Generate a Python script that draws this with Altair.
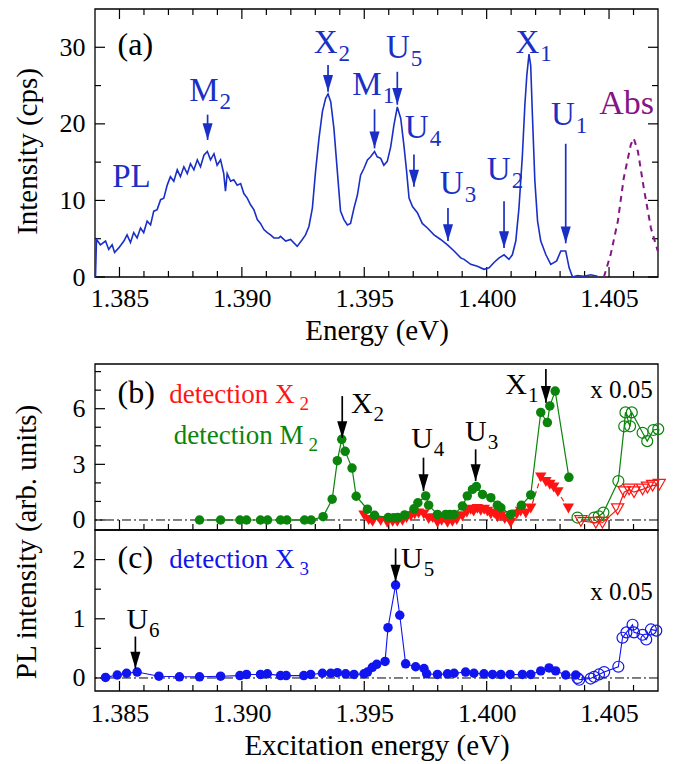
import altair as alt
import pandas as pd

FONT = "Liberation Serif"
BLUE = "#1a2fc6"
DOT_BLUE = "#1014ee"
GREEN = "#0b840b"
RED = "#ff1414"
PURPLE = "#851585"

E_RANGE = [1.384, 1.407]
W = 563
H_A = 268      # panel (a) plot height
GAP = 87       # room below (a) for its energy axis
H_B = 166      # panel (b) plot height
H_C = 161      # panel (c) plot height

x_major = [1.385, 1.390, 1.395, 1.400, 1.405]
x_minor = [1.386, 1.387, 1.388, 1.389, 1.391, 1.392, 1.393, 1.394, 1.396,
           1.397, 1.398, 1.399, 1.401, 1.402, 1.403, 1.404, 1.406]
a_y_major, a_y_minor = [0, 10, 20, 30], [5, 15, 25]
b_y_major, b_y_minor = [0, 3, 6], [1, 2, 4, 5, 7, 8]
c_y_major, c_y_minor = [0, 1, 2], [0.5, 1.5]

# ---- (a) PL spectrum (cps) and absorption
pl_energy = [
    1.38402, 1.38406, 1.38422, 1.38443, 1.38456, 1.38470, 1.38480, 1.38497, 1.38518, 1.38531,
    1.38545, 1.38558, 1.38572, 1.38586, 1.38599, 1.38613, 1.38627, 1.38640, 1.38654, 1.38668,
    1.38681, 1.38695, 1.38708, 1.38722, 1.38736, 1.38749, 1.38763, 1.38777, 1.38790, 1.38804,
    1.38818, 1.38831, 1.38845, 1.38859, 1.38872, 1.38886, 1.38899, 1.38913, 1.38926, 1.38933,
    1.38940, 1.38954, 1.38967, 1.38981, 1.38995, 1.39008, 1.39022, 1.39036, 1.39049, 1.39063,
    1.39076, 1.39090, 1.39104, 1.39117, 1.39131, 1.39151, 1.39158, 1.39179, 1.39199, 1.39226,
    1.39247, 1.39260, 1.39274, 1.39288, 1.39301, 1.39315, 1.39329, 1.39342, 1.39352, 1.39363,
    1.39376, 1.39390, 1.39403, 1.39417, 1.39431, 1.39444, 1.39458, 1.39472, 1.39485, 1.39499,
    1.39513, 1.39526, 1.39542, 1.39553, 1.39567, 1.39580, 1.39594, 1.39608, 1.39621, 1.39635,
    1.39649, 1.39662, 1.39673, 1.39683, 1.39697, 1.39717, 1.39737, 1.39758, 1.39785, 1.39812,
    1.39840, 1.39867, 1.39894, 1.39908, 1.39935, 1.39962, 1.39989, 1.40010, 1.40030, 1.40051,
    1.40071, 1.40091, 1.40105, 1.40119, 1.40132, 1.40146, 1.40156, 1.40164, 1.40173, 1.40180,
    1.40187, 1.40197, 1.40208, 1.40221, 1.40242, 1.40262, 1.40286, 1.40303, 1.40323, 1.40337,
    1.40351, 1.40371, 1.40398, 1.40425, 1.40453,
]
pl_counts = [
    0.0, 4.9, 4.2, 4.7, 3.6, 4.2, 3.2, 3.8, 4.7, 5.5,
    4.5, 5.8, 5.1, 6.4, 5.8, 7.3, 6.8, 8.6, 8.8, 10.1,
    10.3, 12.0, 13.1, 12.5, 14.0, 13.1, 14.4, 13.5, 14.8, 14.0,
    15.3, 14.4, 15.9, 16.4, 15.3, 16.1, 14.6, 15.3, 13.5, 11.2,
    13.5, 12.5, 12.7, 12.0, 12.2, 10.9, 10.3, 9.4, 8.8, 7.5,
    7.0, 6.2, 5.8, 5.5, 5.1, 5.1, 5.3, 4.7, 4.9, 4.0,
    4.9, 5.5, 6.6, 9.0, 13.8, 18.1, 21.6, 23.3, 23.9, 22.9,
    19.4, 13.8, 8.6, 7.5, 6.8, 7.0, 9.0, 10.7, 13.3, 14.2,
    15.3, 15.7, 16.4, 15.7, 15.5, 14.6, 15.1, 17.0, 19.8, 22.2,
    20.7, 17.2, 13.8, 10.3, 9.2, 8.4, 7.0, 6.4, 5.5, 4.9,
    4.2, 3.4, 2.5, 2.3, 1.65, 1.4, 1.0, 1.2, 1.9, 2.5,
    2.9, 2.3, 2.9, 4.7, 9.0, 15.9, 22.4, 26.3, 29.1, 27.6,
    21.1, 12.5, 7.3, 4.7, 2.9, 1.65, 2.1, 3.4, 3.4, 1.2,
    0.0, 0.2, 0.1, 0.3, 0.1,
]
abs_energy = [1.40479, 1.40507, 1.40536, 1.40560, 1.40589, 1.40601, 1.40618, 1.40642, 1.40671, 1.40699]
abs_counts = [0.0, 3.0, 7.3, 12.9, 17.3, 18.1, 16.4, 11.6, 6.4, 3.4]

a_arrow_E = [1.38860, 1.39352, 1.39542, 1.39635, 1.39703, 1.39842, 1.40071, 1.40323]
a_arrow_from = [21.2, 27.7, 21.9, 26.8, 16.0, 9.0, 9.9, 17.4]
a_arrow_to = [17.9, 24.2, 16.8, 22.5, 11.8, 4.7, 3.8, 4.4]
a_lab_E = [1.38905, 1.39391, 1.39571, 1.39686, 1.39763, 1.39906, 1.40098, 1.40215, 1.40360]
a_lab_y = [23.0, 29.2, 23.8, 28.6, 18.1, 10.8, 12.7, 29.2, 19.9]
a_lab_main = ["M", "X", "M", "U", "U", "U", "U", "X", "U"]
a_lab_sub = ["2", "2", "1", "5", "4", "3", "2", "1", "1"]

# ---- (b) excitation spectra, detection on M2 (green) and X2 (red)
m2_energy = [1.38827, 1.38913, 1.38992, 1.39019, 1.39076, 1.39105, 1.39158, 1.39184, 1.39256, 1.39283,
             1.39332, 1.39369, 1.39390, 1.39408, 1.39422, 1.39450, 1.39467, 1.39513, 1.39542, 1.39598,
             1.39620, 1.39637, 1.39665, 1.39703, 1.39719, 1.39751, 1.39763, 1.39799, 1.39833, 1.39849,
             1.39867, 1.39901, 1.39921, 1.39942, 1.39958, 1.39983, 1.40017, 1.40044, 1.40058, 1.40098,
             1.40142, 1.40180, 1.40221, 1.40248, 1.40258, 1.40280, 1.40336]
m2_signal = [0, 0, 0, 0, 0, 0, 0, 0, 0, 0,
             0.18, 1.12, 3.2, 4.35, 3.7, 2.8, 1.28, 0.58, 0.25, 0.13,
             0.12, 0.13, 0.27, 0.6, 0.93, 1.3, 0.8, 0.3, 0.3, 0.3,
             0.3, 0.75, 1.3, 1.65, 1.8, 1.38, 1.2, 0.8, 0.66, 0.3,
             0.79, 1.35, 5.8, 5.25, 6.15, 6.95, 2.3]
m2s_energy = [1.40371, 1.40439, 1.40458, 1.40477, 1.40538, 1.40562, 1.40567, 1.40586, 1.40593,
              1.40637, 1.40656, 1.40681, 1.40701]
m2s_signal = [0.13, 0.13, 0.2, 0.4, 2.1, 5.05, 5.8, 5.05, 5.8, 4.7, 4.25, 4.85, 4.9]
x2_energy = [1.39499, 1.39518, 1.39534, 1.39567, 1.39594, 1.39616, 1.39635, 1.39656, 1.39673, 1.39690,
             1.39706, 1.39722, 1.39743, 1.39763, 1.39780, 1.39799, 1.39816, 1.39840, 1.39860, 1.39878,
             1.39901, 1.39919, 1.39935, 1.39947, 1.39962, 1.39976, 1.39990, 1.40003, 1.40017, 1.40031,
             1.40044, 1.40058, 1.40074, 1.40098, 1.40123, 1.40139, 1.40160, 1.40180, 1.40221, 1.40242,
             1.40258, 1.40274, 1.40291, 1.40334]
x2_signal = [0.25, 0.0, -0.1, -0.05, -0.15, -0.1, -0.1, -0.05, 0.1, 0.2,
             0.3, 0.35, 0.3, 0.05, 0.1, -0.15, -0.05, -0.15, -0.1, 0.0,
             0.2, 0.4, 0.55, 0.45, 0.6, 0.5, 0.55, 0.45, 0.3, 0.35,
             0.15, 0.2, 0.05, -0.15, 0.3, 0.45, 0.35, 0.62, 2.3, 2.05,
             1.9, 1.75, 1.5, 0.62]
x2s_energy = [1.40385, 1.40446, 1.40473, 1.40535, 1.40562, 1.40582, 1.40602, 1.40637, 1.40657, 1.40678, 1.40705]
x2s_signal = [-0.05, -0.15, -0.15, 0.58, 1.5, 1.65, 1.5, 1.65, 1.75, 1.85, 1.9]

b_arrow_E = [1.39410, 1.39742, 1.39955, 1.40242]
b_arrow_from = [6.68, 3.36, 3.81, 8.14]
b_arrow_to = [4.42, 1.56, 2.1, 6.32]
b_lab_E = [1.39534, 1.39780, 1.40000, 1.40165]
b_lab_y = [5.78, 3.9, 4.26, 6.78]
b_lab_main = ["X", "U", "U", "X"]
b_lab_sub = ["2", "4", "3", "1"]

# ---- (c) excitation spectrum, detection on X3
x3_energy = [1.38443, 1.38491, 1.38529, 1.38572, 1.38661, 1.38745, 1.38827, 1.38913, 1.38992, 1.39019,
             1.39076, 1.39104, 1.39158, 1.39181, 1.39253, 1.39281, 1.39329, 1.39363, 1.39390, 1.39424,
             1.39458, 1.39499, 1.39513, 1.39533, 1.39551, 1.39585, 1.39597, 1.39628, 1.39645, 1.39669,
             1.39710, 1.39744, 1.39755, 1.39799, 1.39840, 1.39867, 1.39914, 1.39948, 1.39989, 1.40024,
             1.40058, 1.40096, 1.40146, 1.40180, 1.40221, 1.40255, 1.40282, 1.40323, 1.40364]
x3_signal = [0.01, 0.05, 0.08, 0.10, 0.03, 0.02, 0.02, 0.03, 0.04, 0.06,
             0.06, 0.07, 0.04, 0.04, 0.04, 0.06, 0.08, 0.08, 0.09, 0.07,
             0.06, 0.07, 0.1, 0.18, 0.23, 0.28, 0.85, 1.57, 1.06, 0.24,
             0.19, 0.16, 0.07, 0.06, 0.07, 0.08, 0.1, 0.08, 0.07, 0.06,
             0.06, 0.06, 0.06, 0.06, 0.12, 0.17, 0.12, 0.05, 0.05]
x3s_energy = [1.40371, 1.40378, 1.40425, 1.40439, 1.40459, 1.40480, 1.40538, 1.40555, 1.40571,
              1.40596, 1.40602, 1.40637, 1.40652, 1.40671, 1.40693]
x3s_signal = [0.0, -0.03, -0.01, 0.02, 0.06, 0.1, 0.19, 0.68, 0.77, 0.9, 0.77, 0.73, 0.65, 0.82, 0.8]

c_arrow_E = [1.38565, 1.39628]
c_arrow_from = [0.70, 2.19]
c_arrow_to = [0.16, 1.63]
c_lab_E = [1.38617, 1.39739]
c_lab_y = [0.82, 1.86]
c_lab_main = ["U", "U"]
c_lab_sub = ["6", "5"]

# arrow head: tip at the origin, pointing down
ARROW = "M-0.75,-2.5L0.75,-2.5L0,0Z"

xscale = alt.Scale(domain=E_RANGE, nice=False, zero=False)
AXIS_FONTS = dict(labelFont=FONT, labelFontSize=26, labelColor="black",
                  titleFont=FONT, titleFontSize=29, titleFontWeight="normal", titleColor="black")


def axes(yscale, xaxis, yaxis):
    fx = lambda f: alt.X(f, type="quantitative", scale=xscale, axis=xaxis)
    fy = lambda f: alt.Y(f, type="quantitative", scale=yscale, axis=yaxis)
    return fx, fy


def frame(fx, fy, top, bottom, y_major, y_minor, mirror):
    one = pd.DataFrame({"k": [0]})
    out = [alt.Chart(one).mark_rect(fillOpacity=0, stroke="black", strokeWidth=1.3).encode(
        x=alt.value(0), x2=alt.value(W), y=alt.value(top), y2=alt.value(bottom))]
    for vals, L in ((x_major, 10), (x_minor, 6)):
        base = alt.Chart(pd.DataFrame({"t": vals})).mark_rule(color="black", strokeWidth=1.2)
        out.append(base.encode(x=fx("t"), y=alt.value(bottom), y2=alt.value(bottom - L)))
        if mirror:
            out.append(base.encode(x=fx("t"), y=alt.value(top), y2=alt.value(top + L)))
    for vals, L in ((y_major, 10), (y_minor, 6)):
        base = alt.Chart(pd.DataFrame({"t": vals})).mark_rule(color="black", strokeWidth=1.2)
        out.append(base.encode(y=fy("t"), x=alt.value(0), x2=alt.value(L)))
        if mirror:
            out.append(base.encode(y=fy("t"), x=alt.value(W), x2=alt.value(W - L)))
    return out


def arrows(fx, fy, E, y0, y1, color):
    d = pd.DataFrame({"E": E, "y0": y0, "y1": y1})
    shaft = alt.Chart(d).mark_rule(color=color, strokeWidth=1.7).encode(
        x=fx("E"), y=fy("y0"), y2=alt.Y2("y1"))
    head = alt.Chart(d).mark_point(shape=ARROW, filled=True, size=180, color=color,
                                   opacity=1, strokeWidth=0).encode(x=fx("E"), y=fy("y1"))
    return [shaft, head]


def sub_labels(fx, fy, E, y, main, sub, color, size, sub_size, sub_dx=1, sub_dy=8):
    d = pd.DataFrame({"E": E, "y": y, "main": main, "sub": sub})
    m = alt.Chart(d).mark_text(align="right", baseline="alphabetic", font=FONT, fontSize=size,
                               color=color).encode(x=fx("E"), y=fy("y"), text="main:N")
    s = alt.Chart(d).mark_text(align="left", baseline="alphabetic", font=FONT, fontSize=sub_size,
                               color=color, dx=sub_dx, dy=sub_dy).encode(x=fx("E"), y=fy("y"), text="sub:N")
    return [m, s]


def label(fx, fy, E, y, text, color, size, align="left"):
    d = pd.DataFrame({"E": [E], "y": [y]})
    return alt.Chart(d).mark_text(text=text, align=align, baseline="alphabetic", font=FONT,
                                  fontSize=size, color=color).encode(x=fx("E"), y=fy("y"))


# ---------------- panel (a)
ya = alt.Scale(domain=[0, 35], nice=False, zero=False)
xa_axis = alt.Axis(values=x_major, format=".3f", title="Energy (eV)", domain=False, ticks=False,
                   grid=False, labelPadding=8, titleY=62, titleBaseline="alphabetic", **AXIS_FONTS)
ya_axis = alt.Axis(values=a_y_major, title="Intensity (cps)", domain=False, ticks=False, grid=False,
                   labelPadding=10, titleAngle=270, titleX=-59, titleY=H_A / 2 + 8,
                   titleBaseline="alphabetic", titleAlign="center", **AXIS_FONTS)
fxa, fya = axes(ya, xa_axis, ya_axis)

pl_df = pd.DataFrame({"E": pl_energy, "I": pl_counts})
abs_df = pd.DataFrame({"E": abs_energy, "I": abs_counts})
layers_a = frame(fxa, fya, 0, H_A, a_y_major, a_y_minor, True)
layers_a += [
    alt.Chart(pl_df).mark_line(color=BLUE, strokeWidth=1.6).encode(x=fxa("E"), y=fya("I")),
    alt.Chart(abs_df).mark_line(color=PURPLE, strokeWidth=2, strokeDash=[6, 5]).encode(x=fxa("E"), y=fya("I")),
]
layers_a += arrows(fxa, fya, a_arrow_E, a_arrow_from, a_arrow_to, BLUE)
layers_a += sub_labels(fxa, fya, a_lab_E, a_lab_y, a_lab_main, a_lab_sub, BLUE, 33, 23)
layers_a += [
    label(fxa, fya, 1.38492, 29.0, "(a)", "black", 32),
    label(fxa, fya, 1.38470, 11.8, "PL", BLUE, 33),
    label(fxa, fya, 1.40460, 21.3, "Abs", PURPLE, 34),
]
panel_a = alt.layer(*layers_a).properties(width=W, height=H_A)

# ---------------- panel (b)
yb = alt.Scale(domain=[-0.54, 8.41], range=[GAP + H_B, GAP], nice=False, zero=False)
yb_axis = alt.Axis(values=b_y_major, title=None, domain=False, ticks=False, grid=False, labelPadding=10,
                   **AXIS_FONTS)
fxb, fyb = axes(yb, None, yb_axis)

zero_df = pd.DataFrame({"z": [0]})
m2 = pd.DataFrame({"E": m2_energy, "v": m2_signal})
m2s = pd.DataFrame({"E": m2s_energy, "v": m2s_signal})
x2 = pd.DataFrame({"E": x2_energy, "v": x2_signal})
x2s = pd.DataFrame({"E": x2s_energy, "v": x2s_signal})

layers_b = frame(fxb, fyb, GAP, GAP + H_B, b_y_major, b_y_minor, False)
layers_b += [
    alt.Chart(zero_df).mark_rule(color="black", strokeWidth=1, strokeDash=[9, 3, 2, 3]).encode(y=fyb("z")),
    alt.Chart(x2).mark_line(color=RED, strokeWidth=1.2, strokeDash=[5, 3]).encode(x=fxb("E"), y=fyb("v")),
    alt.Chart(x2).mark_point(shape="triangle-down", filled=True, size=130, color=RED, opacity=1).encode(
        x=fxb("E"), y=fyb("v")),
    alt.Chart(m2).mark_line(color=GREEN, strokeWidth=1.2).encode(x=fxb("E"), y=fyb("v")),
    alt.Chart(m2).mark_circle(size=90, color=GREEN, opacity=1).encode(x=fxb("E"), y=fyb("v")),
    alt.Chart(m2s).mark_line(color=GREEN, strokeWidth=1.2).encode(x=fxb("E"), y=fyb("v")),
    alt.Chart(m2s).mark_point(shape="circle", filled=False, size=120, strokeWidth=1.2, color=GREEN,
                              opacity=1).encode(x=fxb("E"), y=fyb("v")),
    alt.Chart(x2s).mark_line(color=RED, strokeWidth=1.2).encode(x=fxb("E"), y=fyb("v")),
    alt.Chart(x2s).mark_point(shape="triangle-down", filled=False, size=150, strokeWidth=1.2, color=RED,
                              opacity=1).encode(x=fxb("E"), y=fyb("v")),
]
layers_b += arrows(fxb, fyb, b_arrow_E, b_arrow_from, b_arrow_to, "black")
layers_b += sub_labels(fxb, fyb, b_lab_E, b_lab_y, b_lab_main, b_lab_sub, "black", 30, 21)
layers_b += sub_labels(fxb, fyb, [1.39215], [6.32], ["detection X"], ["2"], RED, 27, 19, sub_dx=5, sub_dy=7)
layers_b += sub_labels(fxb, fyb, [1.39252], [4.08], ["detection M"], ["2"], GREEN, 27, 19, sub_dx=5, sub_dy=7)
layers_b += [
    label(fxb, fyb, 1.38492, 6.3, "(b)", "black", 32),
    label(fxb, fyb, 1.40679, 6.56, "x 0.05", "black", 25, align="right"),
]
panel_b = alt.layer(*layers_b).properties(width=W, height=GAP + H_B)

# ---------------- panel (c)
yc = alt.Scale(domain=[-0.22, 2.5], nice=False, zero=False)
xc_axis = alt.Axis(values=x_major, format=".3f", title="Excitation energy (eV)", domain=False, ticks=False,
                   grid=False, labelPadding=9, titleY=63, titleBaseline="alphabetic", **AXIS_FONTS)
yc_axis = alt.Axis(values=c_y_major, title=None, domain=False, ticks=False, grid=False, labelPadding=10,
                   **AXIS_FONTS)
fxc, fyc = axes(yc, xc_axis, yc_axis)

x3 = pd.DataFrame({"E": x3_energy, "v": x3_signal})
x3s = pd.DataFrame({"E": x3s_energy, "v": x3s_signal})

layers_c = frame(fxc, fyc, 0, H_C, c_y_major, c_y_minor, False)
layers_c += [
    alt.Chart(zero_df).mark_rule(color="black", strokeWidth=1, strokeDash=[9, 3, 2, 3]).encode(y=fyc("z")),
    alt.Chart(x3).mark_line(color=DOT_BLUE, strokeWidth=1.1).encode(x=fxc("E"), y=fyc("v")),
    alt.Chart(x3).mark_circle(size=90, color=DOT_BLUE, opacity=1).encode(x=fxc("E"), y=fyc("v")),
    alt.Chart(x3s).mark_line(color=DOT_BLUE, strokeWidth=1.1).encode(x=fxc("E"), y=fyc("v")),
    alt.Chart(x3s).mark_point(shape="circle", filled=False, size=120, strokeWidth=1.2, color=DOT_BLUE,
                              opacity=1).encode(x=fxc("E"), y=fyc("v")),
]
layers_c += arrows(fxc, fyc, c_arrow_E, c_arrow_from, c_arrow_to, "black")
layers_c += sub_labels(fxc, fyc, c_lab_E, c_lab_y, c_lab_main, c_lab_sub, "black", 30, 21)
layers_c += sub_labels(fxc, fyc, [1.39215], [1.86], ["detection X"], ["3"], DOT_BLUE, 27, 19, sub_dx=5, sub_dy=7)
layers_c += [
    label(fxc, fyc, 1.38492, 1.86, "(c)", "black", 32),
    label(fxc, fyc, 1.40679, 1.32, "x 0.05", "black", 25, align="right"),
    # shared title of the (b)/(c) intensity axis
    alt.Chart(pd.DataFrame({"k": [0]})).mark_text(
        text="PL intensity (arb. units)", angle=270, align="center", baseline="alphabetic",
        font=FONT, fontSize=29, color="black").encode(x=alt.value(-59), y=alt.value(12)),
]
panel_c = alt.layer(*layers_c).properties(width=W, height=H_C)

chart = alt.vconcat(panel_a, panel_b, panel_c, spacing=0, bounds="flush").properties(
    padding={"left": 12, "top": 8, "right": 5, "bottom": 5}
).configure_view(strokeWidth=0).configure_axis(**AXIS_FONTS)

chart.save("out.html", embed_options={"renderer": "svg", "actions": False})
